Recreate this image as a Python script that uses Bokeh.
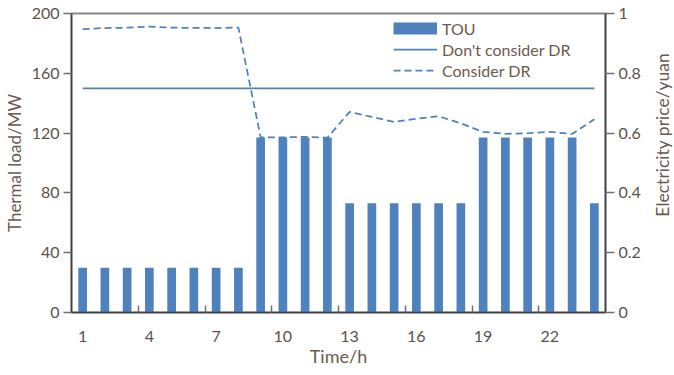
import math
from bokeh.plotting import figure
from bokeh.layouts import row
from bokeh.models import (Range1d, LinearAxis, FixedTicker, NumeralTickFormatter,
                          Legend, LegendItem, ColumnDataSource)
from bokeh.core.properties import value
from bokeh.embed import file_html
from bokeh.resources import INLINE

# Hourly data (hour 1..24)
hours = list(range(1, 25))
tou_price = [0.15] * 8 + [0.585] * 4 + [0.365] * 6 + [0.585] * 5 + [0.365]
load_no_dr = [150] * 24
load_dr = [189.5, 190.3, 190.5, 191.2, 190.5, 190.4, 190.3, 190.6,
           117.2, 117.1, 117.5, 116.9, 134.2, 130.8, 127.5, 129.6,
           131.3, 126.5, 120.8, 119.5, 119.9, 120.8, 119.4, 129.3]

x_tick_labels = [1, 4, 7, 10, 13, 16, 19, 22]
x_minor_ticks = [3.5, 6.5, 9.5, 12.5, 15.5, 18.5, 21.5]
left_ticks = [0, 40, 80, 120, 160, 200]
right_ticks = [0, 0.2, 0.4, 0.6, 0.8, 1.0]

FONT = "Lato"
BLUE = "#4F81BD"
TICK_TXT = "#5A524D"
TITLE_TXT = "#6B5A4F"

p = figure(width=650, height=375, output_backend="svg", toolbar_location=None,
           x_range=Range1d(0.5, 24.5), y_range=Range1d(0, 200),
           min_border_left=71, min_border_right=45, min_border_top=13,
           min_border_bottom=63)
p.extra_y_ranges = {"price": Range1d(0, 1)}
p.xgrid.visible = False
p.ygrid.visible = False
p.outline_line_color = "#868686"
p.outline_line_width = 2
p.background_fill_color = "white"
p.border_fill_color = "white"

src = ColumnDataSource(dict(h=hours, tou=tou_price, nodr=load_no_dr, dr=load_dr))

bars = p.vbar(x="h", top="tou", width=0.39, source=src, y_range_name="price",
              fill_color=BLUE, line_color=None)
solid = p.line(x="h", y="nodr", source=src, line_color=BLUE, line_width=1.75)
dashed = p.line(x="h", y="dr", source=src, line_color=BLUE, line_width=1.75,
                line_dash="7 4")

# legend swatch for the TOU bars: a thick butt-capped stroke with no visible data
swatch = p.line(x=[float("nan")], y=[float("nan")], line_color=BLUE,
                line_width=12, line_cap="butt")

# x axis
xa = p.xaxis[0]
xa.ticker = FixedTicker(ticks=x_tick_labels, minor_ticks=x_minor_ticks)
xa.major_tick_in = 0
xa.major_tick_out = 0
xa.minor_tick_in = 7
xa.minor_tick_out = 0
xa.minor_tick_line_color = "#707070"
xa.minor_tick_line_width = 1.5
xa.axis_line_color = "#3F3F3F"
xa.axis_line_width = 1.5
xa.axis_label = "Time/h"
xa.major_label_standoff = 18
xa.axis_label_standoff = 0

# left axis
ya = p.yaxis[0]
ya.ticker = FixedTicker(ticks=left_ticks)
ya.minor_tick_line_color = None
ya.major_tick_in = 0
ya.major_tick_out = 8
ya.major_tick_line_color = "#707070"
ya.major_tick_line_width = 1.5
ya.axis_line_color = "#3F3F3F"
ya.axis_line_width = 1.5
ya.axis_label = "Thermal load/MW"
ya.major_label_standoff = 4
ya.axis_label_standoff = 4

# right axis (price)
ra = LinearAxis(y_range_name="price", ticker=FixedTicker(ticks=right_ticks),
                formatter=NumeralTickFormatter(format="0.[0]"))
ra.minor_tick_line_color = None
ra.major_tick_in = 0
ra.major_tick_out = 9
ra.major_tick_line_color = "#707070"
ra.major_tick_line_width = 1.5
ra.axis_line_color = "#3F3F3F"
ra.axis_line_width = 1.5
ra.major_label_standoff = 4
p.add_layout(ra, "right")

for ax in (xa, ya, ra):
    ax.major_label_text_font = FONT
    ax.major_label_text_font_size = "16px"
    ax.major_label_text_color = TICK_TXT
    ax.axis_label_text_font = FONT
    ax.axis_label_text_font_size = "17px"
    ax.axis_label_text_font_style = "normal"
    ax.axis_label_text_color = TITLE_TXT
xa.axis_label_text_font_size = "18px"

legend = Legend(items=[
    LegendItem(label="TOU", renderers=[swatch]),
    LegendItem(label="Don't consider DR", renderers=[solid]),
    LegendItem(label="Consider DR", renderers=[dashed]),
], location=(322, 232))
legend.glyph_width = 44
legend.glyph_height = 20
legend.label_height = 20
legend.spacing = 1
legend.padding = 0
legend.margin = 0
legend.label_standoff = 5
legend.label_text_font = FONT
legend.label_text_font_size = "16px"
legend.label_text_color = TITLE_TXT
legend.border_line_color = None
legend.background_fill_alpha = 0
p.add_layout(legend, "center")

# narrow strip holding the right-hand axis title, reading bottom-to-top
q = figure(width=24, height=375, output_backend="svg", toolbar_location=None,
           x_range=Range1d(0, 24), y_range=Range1d(0, 375),
           min_border=0, outline_line_color=None)
q.axis.visible = False
q.grid.visible = False
q.text(x=[12], y=[223], text=["Electricity price/yuan"], angle=math.pi / 2,
       text_align="center", text_baseline="middle",
       text_font=value(FONT), text_font_size="17.5px", text_color=TITLE_TXT)

layout = row(p, q, spacing=0)
open("out.html", "w").write(file_html(layout, INLINE))
